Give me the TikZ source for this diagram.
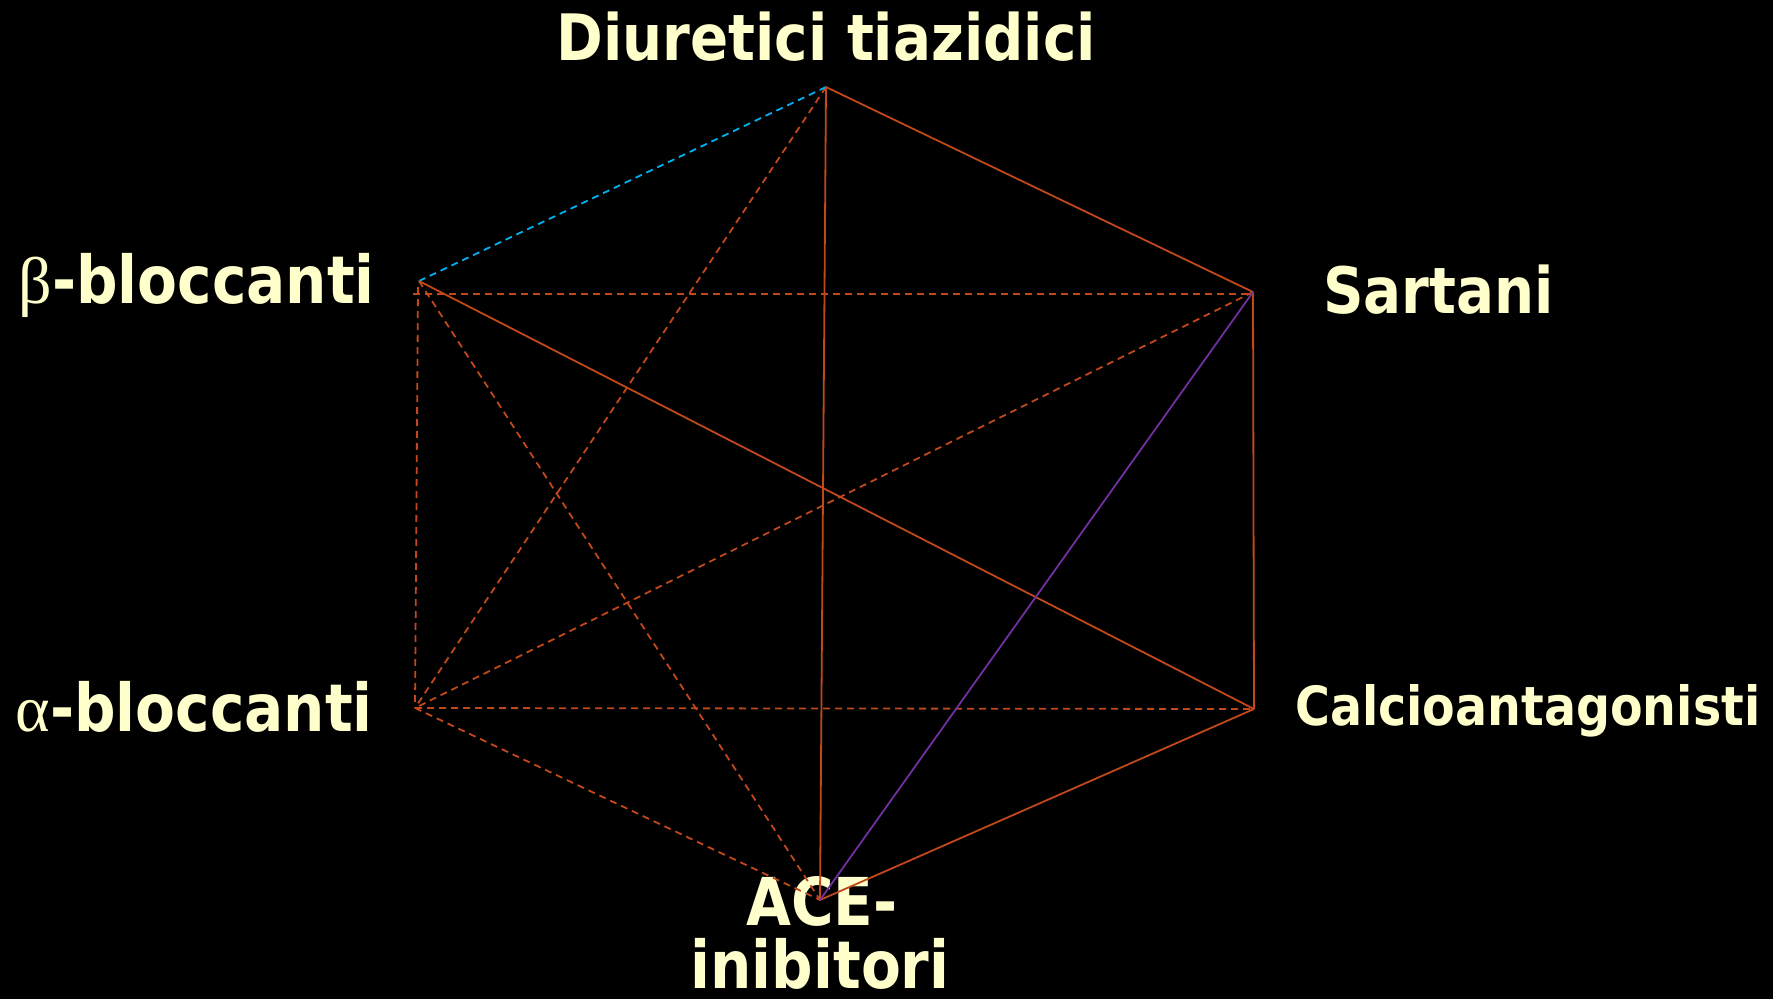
\documentclass[tikz,border=0pt]{standalone}
\usepackage{fontspec}
\setmainfont{DejaVu Sans}[FakeStretch=0.88]
\newfontfamily\grk{Liberation Serif}
\definecolor{labc}{RGB}{255,255,204}
\definecolor{orc}{RGB}{192,72,26}
\definecolor{bluc}{RGB}{0,176,240}
\definecolor{purc}{RGB}{112,48,160}
\begin{document}
\begin{tikzpicture}[x=1pt,y=-1pt,
  lab/.style={text=labc, inner sep=0pt, font=\fontsize{66}{67}\selectfont\bfseries},
  edge/.style={draw=orc, line width=1.8pt},
  dsh/.style={dash pattern=on 7pt off 5pt}]
\fill[black] (0,0) rectangle (1773,999);
\useasboundingbox (0,0) rectangle (1773,999);
% vertices
\coordinate (D) at (826,87);
\coordinate (B) at (419,281);
\coordinate (S) at (1253,292);
\coordinate (A) at (415,708);
\coordinate (C) at (1254,709);
\coordinate (E) at (820,900);
\coordinate (Bh) at (413,294);
\coordinate (Sh) at (1253,294);
\coordinate (Bv) at (418,287);
% labels
\node[lab, anchor=base, font=\fontsize{64}{65}\selectfont\bfseries] (tD) at (826,60) {Diuretici tiazidici};
\node[lab, anchor=base east] (tB) at (375,303) {{\grk\mdseries β}-bloccanti};
\node[lab, anchor=base west, font=\fontsize{64}{65}\selectfont\bfseries] (tS) at (1323,313) {Sartani};
\node[lab, anchor=base east] (tA) at (373,731) {{\grk\mdseries α}-bloccanti};
\node[lab, anchor=base west, font=\fontsize{54}{55}\selectfont\bfseries] (tC) at (1295,725) {Calcioantagonisti};
\node[lab, anchor=base] (tE1) at (822,925) {ACE-};
\node[lab, anchor=base] (tE2) at (820,988) {inibitori};
% dashed orange edges
\draw[edge, dsh] (D) -- (A);
\draw[edge, dsh] (Bh) -- (Sh);
\draw[edge, dsh] (Bv) -- (A);
\draw[edge, dsh] (B) -- (E);
\draw[edge, dsh] (S) -- (A);
\draw[edge, dsh] (A) -- (C);
\draw[edge, dsh] (A) -- (E);
% blue dashed
\draw[draw=bluc, line width=1.8pt, dsh] (D) -- (B);
% solid orange edges
\draw[edge] (D) -- (S);
\draw[edge] (D) -- (E);
\draw[edge] (B) -- (C);
\draw[edge] (S) -- (C);
\draw[edge] (C) -- (E);
% purple
\draw[draw=purc, line width=1.8pt] (S) -- (E);
\end{tikzpicture}
\end{document}
